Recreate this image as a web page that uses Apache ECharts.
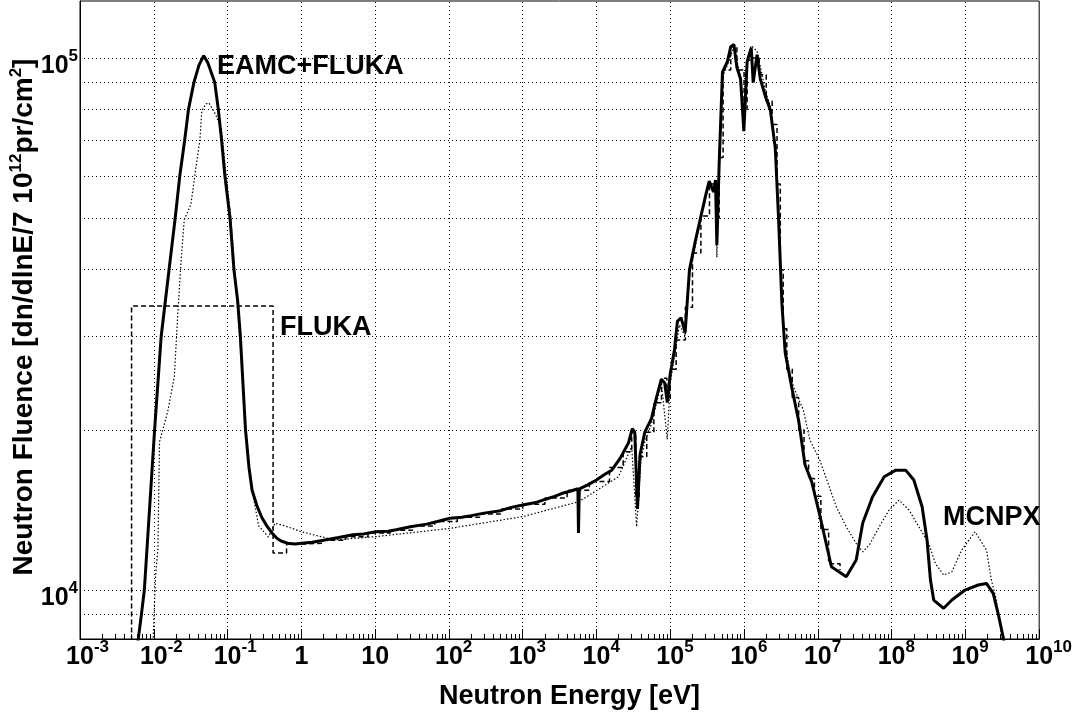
<!DOCTYPE html>
<html><head><meta charset="utf-8">
<script src="https://cdn.jsdelivr.net/npm/echarts@6/dist/echarts.min.js"></script>
<style>html,body{margin:0;padding:0;background:#fff}#c{width:1075px;height:718px}</style>
</head><body><div id="c"></div>
<script>
// ---------- data ----------
const eamcE = [6.1e-3,6.8e-3,7.45e-3,1.026e-2,1.26e-2,1.61e-2,1.95e-2,2.25e-2,2.62e-2,2.95e-2,3.5e-2,4.1e-2,4.75e-2,5.4e-2,6.7e-2,7.5e-2,8.3e-2,9.2e-2,0.108,0.122,0.137,0.149,0.175,0.195,0.215,0.25,0.29,0.34,0.40,0.47,0.54,0.65,0.82,1.0,1.4,2.0,3.2,5.0,7.0,10.2,15,20,30,50,70,104,150,200,300,500,700,1000,1500,2000,2700,3440,4500,5600,5700,5850,7500,9640,1.3e4,1.61e4,2.1e4,2.71e4,3.06e4,3.3e4,3.6e4,3.9e4,4.52e4,5.56e4,6.5e4,7.57e4,8.4e4,9.12e4,1.0e5,1.14e5,1.25e5,1.4e5,1.59e5,1.82e5,2.2e5,2.61e5,3.0e5,3.37e5,3.86e5,4.1e5,4.28e5,4.59e5,5.1e5,5.94e5,6.6e5,7.29e5,8.0e5,8.97e5,9.94e5,1.1e6,1.25e6,1.33e6,1.5e6,1.66e6,1.94e6,2.27e6,2.65e6,2.93e6,3.26e6,3.61e6,4.44e6,5.5e6,6.7e6,8.23e6,1.04e7,1.53e7,1.78e7,2.43e7,3.31e7,4.06e7,5.52e7,7.93e7,1.14e8,1.55e8,2.0e8,2.59e8,3.02e8,3.36e8,3.72e8,5.07e8,6.55e8,9.9e8,1.49e9,1.93e9,2.38e9,2.77e9,3.24e9,3.6e9];
const eamcF = [8000,9000,1.0e4,2.0e4,3.0e4,4.0e4,5.0e4,6.0e4,7.0e4,8.0e4,9.0e4,9.7e4,1.01e5,9.8e4,9.0e4,8.0e4,7.0e4,6.0e4,5.0e4,4.0e4,3.5e4,3.0e4,2.0e4,1.7e4,1.54e4,1.44e4,1.37e4,1.32e4,1.28e4,1.25e4,1.235e4,1.225e4,1.22e4,1.224e4,1.23e4,1.24e4,1.255e4,1.27e4,1.275e4,1.287e4,1.29e4,1.30e4,1.315e4,1.33e4,1.345e4,1.364e4,1.37e4,1.38e4,1.395e4,1.41e4,1.43e4,1.445e4,1.46e4,1.48e4,1.50e4,1.52e4,1.535e4,1.55e4,1.28e4,1.55e4,1.575e4,1.605e4,1.65e4,1.68e4,1.77e4,1.89e4,2.01e4,1.98e4,1.42e4,1.80e4,1.98e4,2.10e4,2.3e4,2.49e4,2.45e4,2.25e4,2.55e4,2.83e4,3.20e4,3.25e4,3.05e4,4.0e4,4.55e4,5.05e4,5.5e4,5.87e4,5.6e4,5.9e4,4.45e4,6.28e4,9.41e4,9.84e4,1.05e5,1.061e5,9.6e4,9.13e4,7.29e4,9.84e4,1.045e5,8.99e4,1.015e5,9.14e4,8.48e4,7.99e4,6.77e4,5.02e4,3.45e4,2.794e4,2.4e4,2.08e4,1.72e4,1.60e4,1.40e4,1.106e4,1.09e4,1.059e4,1.139e4,1.337e4,1.497e4,1.633e4,1.68e4,1.68e4,1.61e4,1.434e4,1.242e4,1.044e4,9576,9240,9576,1.0e4,1.022e4,1.029e4,9858,9042,8170,7500];

const flukaE = [5.0e-3,5.0e-3,0.414,0.63,1.0,2.0,4.0,8.0,16,32,64,130,260,520,1000,2000,4000,8000,1.5e4,2.3e4,3.0e4,3.4e4,3.8e4,4.8e4,6.0e4,7.6e4,9.0e4,1.0e5,1.2e5,1.6e5,2.0e5,2.6e5,3.4e5,4.25e5,4.6e5,5.2e5,6.6e5,8.0e5,1.0e6,1.1e6,1.3e6,1.6e6,2.0e6,2.4e6,2.8e6,3.1e6,3.4e6,3.8e6,4.5e6,5.5e6,6.5e6,7.5e6,9.0e6,1.1e7,1.4e7,2.0e7];
const flukaF = [7000,3.42e4,1.174e4,1.22e4,1.225e4,1.24e4,1.26e4,1.28e4,1.295e4,1.32e4,1.345e4,1.37e4,1.39e4,1.42e4,1.45e4,1.49e4,1.54e4,1.60e4,1.70e4,1.82e4,1.98e4,1.50e4,1.78e4,1.98e4,2.25e4,2.5e4,2.3e4,2.6e4,2.95e4,3.4e4,4.3e4,5.05e4,5.8e4,5.0e4,6.5e4,9.5e4,1.05e5,9.5e4,8.0e4,9.9e4,1.0e5,9.3e4,8.3e4,7.5e4,5.8e4,4.0e4,3.1e4,2.6e4,2.3e4,2.0e4,1.75e4,1.62e4,1.5e4,1.3e4,1.12e4,1.09e4];

const mcnpxE = [9.75e-3,1.057e-2,1.137e-2,1.197e-2,1.55e-2,1.90e-2,2.11e-2,2.34e-2,2.59e-2,3.18e-2,3.71e-2,4.21e-2,4.48e-2,5.1e-2,5.61e-2,6.9e-2,8.3e-2,9.4e-2,0.11,0.128,0.149,0.175,0.204,0.263,0.358,0.44,0.6,1.0,2.8,10.2,104,1000,5770,1.99e4,3.0e4,3.5e4,4.0e4,4.5e4,5.56e4,7.57e4,9.1e4,1.0e5,1.14e5,1.33e5,1.59e5,1.82e5,2.61e5,3.37e5,4.1e5,4.28e5,4.59e5,5.1e5,5.94e5,7.29e5,8.97e5,9.94e5,1.1e6,1.25e6,1.5e6,1.94e6,2.27e6,2.65e6,2.93e6,3.26e6,3.61e6,4.21e6,4.67e6,6.35e6,7.81e6,1.064e7,1.78e7,2.43e7,3.31e7,4.06e7,4.99e7,6.79e7,9.25e7,1.26e8,1.72e8,2.34e8,3.18e8,3.92e8,5.07e8,6.55e8,8.91e8,1.35e9,1.93e9,2.25e9,2.63e9,3.07e9,3.3e9];
const mcnpxF = [7900,1.065e4,1.196e4,1.90e4,2.17e4,2.52e4,3.28e4,4.14e4,4.97e4,5.3e4,6.2e4,7.0e4,7.96e4,8.2e4,8.23e4,7.83e4,7.33e4,6.16e4,5.05e4,3.81e4,2.87e4,2.07e4,1.61e4,1.321e4,1.258e4,1.335e4,1.32e4,1.287e4,1.242e4,1.26e4,1.306e4,1.374e4,1.466e4,1.633e4,1.86e4,1.315e4,1.75e4,1.9e4,2.05e4,2.45e4,1.92e4,2.45e4,2.75e4,3.15e4,3.0e4,3.9e4,5.0e4,5.8e4,5.8e4,4.22e4,6.2e4,9.2e4,9.7e4,1.05e5,9.2e4,7.6e4,9.9e4,1.055e5,1.03e5,8.7e4,8.1e4,6.9e4,5.1e4,3.5e4,2.9e4,2.55e4,2.41e4,2.18e4,1.914e4,1.755e4,1.434e4,1.315e4,1.224e4,1.18e4,1.215e4,1.315e4,1.414e4,1.476e4,1.414e4,1.315e4,1.224e4,1.122e4,1.067e4,1.082e4,1.189e4,1.287e4,1.189e4,1.044e4,9576,8303,7500];

// axis ticks / grid values
const xDecades = [1e-3,1e-2,1e-1,1,10,1e2,1e3,1e4,1e5,1e6,1e7,1e8,1e9,1e10];
const xMinorTicks = [];
for (let d = -3; d < 10; d++) for (let m = 2; m <= 9; m++) xMinorTicks.push(m * Math.pow(10, d));
const xGridValues = [1e-2,1e-1,1,10,1e2,1e3,1e4,1e5,1e6,1e7,1e8,1e9];
const yGridValues = [9000,1e4,2e4,3e4,4e4,5e4,6e4,7e4,8e4,9e4,1e5];
const yLabelValues = [1e4,1e5];
const X_MIN = 1e-3, X_MAX = 1e10, Y_MIN = 8090, Y_MAX = 1.28e5;

const annotations = [
  {text:'EAMC+FLUKA', left:217, top:53},
  {text:'FLUKA', left:280, top:314},
  {text:'MCNPX', left:943, top:504}
];

// ---------- chart ----------
const FONT = 'Liberation Sans, Arial, Helvetica, sans-serif';
const pair = (E, F) => E.map((e, i) => [e, F[i]]);
const expo = v => Math.round(Math.log10(v));

const chart = echarts.init(document.getElementById('c'), null, {renderer:'canvas'});
const supX = {fontSize:17, fontWeight:'bold', fontFamily:FONT, color:'#000', lineHeight:17, verticalAlign:'top'};
const supY = {fontSize:17, fontWeight:'bold', fontFamily:FONT, color:'#000', height:17, verticalAlign:'top', padding:[10,0,0,0]};
const option = {
  animation:false,
  backgroundColor:'#fff',
  grid:{left:73, right:34, top:1, bottom:79, show:true, borderColor:'#000', borderWidth:1, containLabel:false, backgroundColor:'transparent'},
  xAxis:[{
    type:'log', logBase:10, min:X_MIN, max:X_MAX,
    name:'Neutron Energy [eV]', nameLocation:'middle', nameGap:44, nameMoveOverlap:false,
    nameTextStyle:{fontSize:27, fontWeight:'bold', fontFamily:FONT, color:'#000', padding:[0,0,0,20]},
    axisLine:{show:true, lineStyle:{color:'#000', width:1}},
    axisTick:{show:true, inside:true, length:10, customValues:xDecades, lineStyle:{color:'#000', width:1}},
    splitLine:{show:false}, minorTick:{show:false},
    axisLabel:{show:true, margin:0, customValues:xDecades, color:'#000',
      formatter:v => { const e = expo(v); if (e === 0) return '{b|1}'; if (e === 1) return '{b|10}'; return '{h|' + e + '}{b|10}{s|' + e + '}'; },
      rich:{
        b:{fontSize:25, fontWeight:'bold', fontFamily:FONT, color:'#000', height:25, padding:[6,0,0,0]},
        s:supX,
        h:Object.assign({}, supX, {color:'transparent'})
      }}
  },{
    type:'log', logBase:10, min:X_MIN, max:X_MAX, gridIndex:0, position:'bottom',
    axisLine:{show:false}, axisLabel:{show:false}, splitLine:{show:false},
    axisTick:{show:true, inside:true, length:5, customValues:xMinorTicks, lineStyle:{color:'#000', width:1}}
  }],
  yAxis:[{
    type:'log', logBase:10, min:Y_MIN, max:Y_MAX,
    name:'Neutron Fluence [dn/dlnE/7 10{s|12}pr/cm{s|2}]', nameLocation:'middle', nameGap:40, nameRotate:90, nameMoveOverlap:false,
    nameTextStyle:{fontSize:28, fontWeight:'bold', fontFamily:FONT, color:'#000', lineHeight:32, padding:[0,0,0,6],
      rich:{s:{fontSize:17, fontWeight:'bold', fontFamily:FONT, color:'#000', lineHeight:17, verticalAlign:'top'}}},
    axisLine:{show:true, lineStyle:{color:'#000', width:1}},
    axisTick:{show:false}, splitLine:{show:false}, minorTick:{show:false},
    axisLabel:{show:true, margin:2, customValues:yLabelValues, color:'#000',
      formatter:v => '{b|10}{s|' + expo(v) + '}',
      rich:{
        b:{fontSize:25, fontWeight:'bold', fontFamily:FONT, color:'#000', height:25, padding:[16,0,0,0]},
        s:supY
      }}
  }],
  graphic: annotations.map(a => ({type:'text', left:a.left, top:a.top, silent:true, z:100,
    style:{text:a.text, fill:'#000', font:'bold 27px ' + FONT}})),
  series:[
    {type:'line', name:'MCNPX', data:pair(mcnpxE, mcnpxF), showSymbol:false, symbol:'none', clip:true, z:2,
      lineStyle:{color:'#000', width:1.2, type:[1.5,2]},
      markLine:{silent:true, symbol:'none', animation:false, label:{show:false},
        lineStyle:{color:'#000', width:1, type:[1,3]},
        data:[].concat(xGridValues.map(v => ({xAxis:v})), yGridValues.map(v => ({yAxis:v})))}},
    {type:'line', name:'FLUKA', data:pair(flukaE, flukaF), step:'end', showSymbol:false, symbol:'none', clip:true, z:3,
      lineStyle:{color:'#000', width:1.5, type:[5,3]}},
    {type:'line', name:'EAMC+FLUKA', data:pair(eamcE, eamcF), showSymbol:false, symbol:'none', clip:true, z:4,
      lineStyle:{color:'#000', width:3}}
  ]
};
chart.setOption(option);
</script>
</body></html>
